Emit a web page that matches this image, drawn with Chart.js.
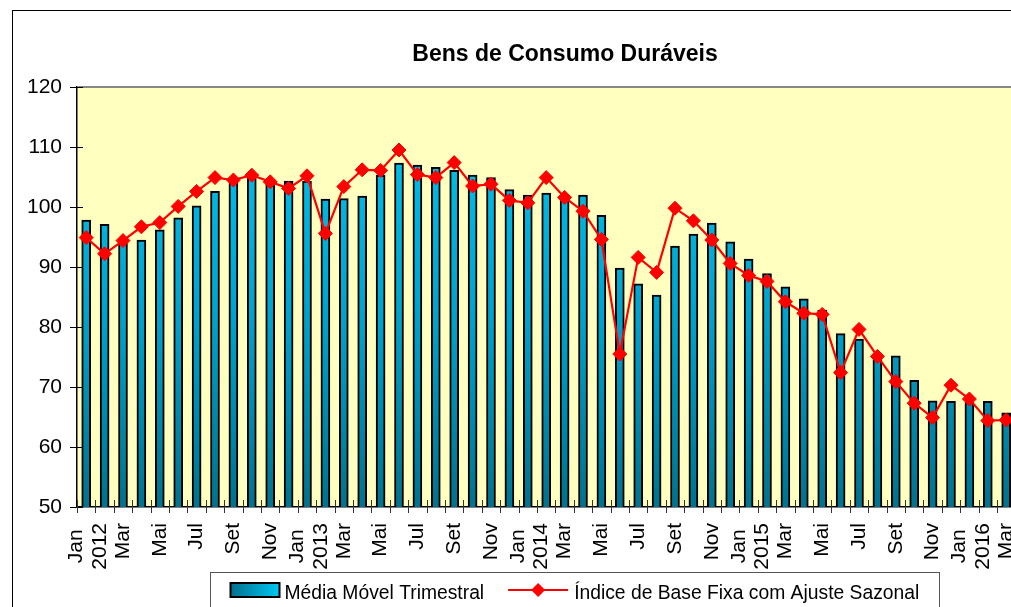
<!DOCTYPE html>
<html><head><meta charset="utf-8">
<script src="https://cdn.jsdelivr.net/npm/chart.js@4.4.1/dist/chart.umd.min.js"></script>
<style>
html,body{margin:0;padding:0;background:#fff;overflow:hidden;width:1011px;height:607px;}
#frame{position:absolute;left:12px;top:10px;width:1104px;height:640px;border:1px solid #000;}
canvas{display:block;}
</style></head><body>
<div id="frame"><canvas id="c" width="1104" height="640"></canvas></div>
<script>
const categories = [
 'Jan 2012','Fev 2012','Mar 2012','Abr 2012','Mai 2012','Jun 2012','Jul 2012','Ago 2012','Set 2012','Out 2012','Nov 2012','Dez 2012',
 'Jan 2013','Fev 2013','Mar 2013','Abr 2013','Mai 2013','Jun 2013','Jul 2013','Ago 2013','Set 2013','Out 2013','Nov 2013','Dez 2013',
 'Jan 2014','Fev 2014','Mar 2014','Abr 2014','Mai 2014','Jun 2014','Jul 2014','Ago 2014','Set 2014','Out 2014','Nov 2014','Dez 2014',
 'Jan 2015','Fev 2015','Mar 2015','Abr 2015','Mai 2015','Jun 2015','Jul 2015','Ago 2015','Set 2015','Out 2015','Nov 2015','Dez 2015',
 'Jan 2016','Fev 2016','Mar 2016'];
const tickLabels = [
 'Jan\n2012','','Mar','','Mai','','Jul','','Set','','Nov','',
 'Jan\n2013','','Mar','','Mai','','Jul','','Set','','Nov','',
 'Jan\n2014','','Mar','','Mai','','Jul','','Set','','Nov','',
 'Jan\n2015','','Mar','','Mai','','Jul','','Set','','Nov','',
 'Jan\n2016','','Mar'];
const mediaMovel = [
 97.8,97.1,94.0,94.5,96.2,98.2,100.2,102.6,104.4,105.1,104.2,104.3,
 104.3,101.3,101.4,101.8,105.3,107.3,107.0,106.6,106.1,105.3,104.9,102.9,
 102.0,102.3,102.0,102.0,98.6,89.8,87.2,85.3,93.5,95.5,97.3,94.2,
 91.3,88.9,86.7,84.7,82.8,78.9,78.0,75.5,75.2,71.1,67.7,67.6,
 67.5,67.6,65.7];
const indiceAjustado = [
 94.9,92.2,94.4,96.7,97.4,100.1,102.6,104.9,104.5,105.3,104.2,103.1,
 105.2,95.6,103.4,106.2,106.1,109.5,105.4,104.9,107.4,103.5,103.8,101.1,
 100.7,104.9,101.6,99.3,94.6,75.5,91.6,89.1,99.8,97.7,94.5,90.6,
 88.6,87.6,84.2,82.3,82.1,72.4,79.6,75.1,70.9,67.3,64.9,70.3,
 68.0,64.4,64.5];
const yMin = 50, yMax = 120, yStep = 10;
const seriesNames = ['Média Móvel Trimestral', 'Índice de Base Fixa com Ajuste Sazonal'];
const chartTitle = 'Bens de Consumo Duráveis';

const FONT = '"Liberation Sans", Arial, sans-serif';

function barGradient(context) {
  const chart = context.chart;
  const area = chart.chartArea;
  if (!area) return '#00a8d8';
  const g = chart.ctx.createLinearGradient(0, area.top, 0, area.bottom);
  g.addColorStop(0, '#00c8f4');
  g.addColorStop(0.55, '#00a2cc');
  g.addColorStop(1, '#00728f');
  return g;
}

const decorPlugin = {
  id: 'decor',
  beforeDraw(chart) {
    const {ctx, chartArea: a} = chart;
    ctx.save();
    ctx.fillStyle = '#ffffc0';
    ctx.fillRect(a.left, a.top, a.right - a.left, a.bottom - a.top);
    ctx.restore();
  },
  beforeDatasetsDraw(chart) {
    const {ctx, chartArea: a, scales: {x, y}} = chart;
    ctx.save();
    ctx.strokeStyle = '#888';
    ctx.lineWidth = 2;
    ctx.beginPath();
    ctx.moveTo(a.left, a.top); ctx.lineTo(a.right, a.top); ctx.lineTo(a.right, a.bottom);
    ctx.stroke();
    ctx.strokeStyle = '#000';
    ctx.lineWidth = 1;
    for (let v = yMin; v <= yMax; v += yStep) {
      const py = Math.round(y.getPixelForValue(v)) + 0.5;
      ctx.beginPath(); ctx.moveTo(a.left - 7, py); ctx.lineTo(a.left + 6, py); ctx.stroke();
    }
    ctx.strokeStyle = '#333';
    const n = categories.length;
    for (let i = 0; i <= n; i++) {
      let px;
      if (i === 0) px = a.left;
      else if (i === n) px = a.right;
      else px = (x.getPixelForValue(i - 1) + x.getPixelForValue(i)) / 2;
      px = Math.round(px) + 0.5;
      ctx.beginPath(); ctx.moveTo(px, a.bottom - 7); ctx.lineTo(px, a.bottom + 6); ctx.stroke();
    }
    ctx.restore();
  },
  afterDraw(chart) {
    const {ctx, chartArea: a, scales: {x}} = chart;
    ctx.save();
    ctx.font = '21px ' + FONT;
    ctx.fillStyle = '#000';
    ctx.textAlign = 'center';
    ctx.textBaseline = 'middle';
    const lh = 23.5;
    const top = a.bottom + 16;
    tickLabels.forEach((lab, i) => {
      if (!lab) return;
      const lines = lab.split('\n');
      const px = x.getPixelForValue(i);
      const maxW = Math.max(...lines.map(l => ctx.measureText(l).width));
      lines.forEach((l, j) => {
        const lx = px + (j - (lines.length - 1) / 2) * lh + (lines.length > 1 ? 2 : 0);
        ctx.save();
        ctx.translate(lx, top + maxW / 2);
        ctx.rotate(-Math.PI / 2);
        ctx.fillText(l, 0, 0);
        ctx.restore();
      });
    });

    // legend
    ctx.font = '19.3px ' + FONT;
    ctx.textAlign = 'left';
    ctx.textBaseline = 'alphabetic';
    const boxL = 197.5, boxT = 561.5;
    const midY = 579;
    const baseY = 588;
    let cx = boxL + 20;
    const sw = 49, sh = 14;
    const g = ctx.createLinearGradient(cx, 0, cx + sw, 0);
    g.addColorStop(0, '#006f8c');
    g.addColorStop(1, '#00c8f4');
    ctx.fillStyle = g;
    ctx.fillRect(cx, midY - sh / 2, sw, sh);
    ctx.strokeStyle = '#000';
    ctx.lineWidth = 2;
    ctx.strokeRect(cx, midY - sh / 2, sw, sh);
    cx += sw + 5;
    ctx.fillStyle = '#000';
    ctx.fillText(chart.data.datasets[1].label, cx, baseY);
    cx += ctx.measureText(chart.data.datasets[1].label).width + 24;
    ctx.strokeStyle = '#ff0000';
    ctx.lineWidth = 2;
    ctx.beginPath(); ctx.moveTo(cx, midY); ctx.lineTo(cx + 60, midY); ctx.stroke();
    ctx.fillStyle = '#ff0000';
    const dx = cx + 30, r = 7;
    ctx.beginPath(); ctx.moveTo(dx, midY - r); ctx.lineTo(dx + r, midY); ctx.lineTo(dx, midY + r); ctx.lineTo(dx - r, midY); ctx.closePath(); ctx.fill();
    cx += 66;
    ctx.fillStyle = '#000';
    ctx.fillText(chart.data.datasets[0].label, cx, baseY);
    cx += ctx.measureText(chart.data.datasets[0].label).width + 20;
    ctx.strokeStyle = '#555';
    ctx.lineWidth = 1;
    ctx.strokeRect(boxL, boxT, Math.round(cx - boxL), 80);
    ctx.restore();
  }
};

new Chart(document.getElementById('c'), {
  type: 'bar',
  data: {
    labels: categories,
    datasets: [
      {
        type: 'line', label: seriesNames[1], data: indiceAjustado,
        borderColor: '#ff0000', backgroundColor: '#ff0000', borderWidth: 2.2,
        pointStyle: 'rectRot', pointRadius: 7, pointBackgroundColor: '#ff0000',
        pointBorderColor: '#ff0000', pointBorderWidth: 1, tension: 0, fill: false, order: 0
      },
      {
        type: 'bar', label: seriesNames[0], data: mediaMovel,
        backgroundColor: barGradient, borderColor: '#000', borderWidth: 2,
        borderSkipped: false, barThickness: 9, order: 1
      }
    ]
  },
  options: {
    responsive: false, animation: false, devicePixelRatio: 1,
    layout: {padding: {left: 0, right: 0, top: 0, bottom: 74}},
    plugins: {
      legend: {display: false},
      tooltip: {enabled: false},
      title: {
        display: true, text: chartTitle, color: '#000',
        font: {family: FONT, size: 23, weight: 'bold'},
        padding: {top: 30, bottom: 18.4}
      }
    },
    scales: {
      x: {
        ticks: {display: false},
        grid: {display: true, drawOnChartArea: false, drawTicks: false},
        border: {display: true, color: '#000', width: 1.5},
        afterFit(s) { s.height = 70; }
      },
      y: {
        min: yMin, max: yMax,
        ticks: {stepSize: yStep, color: '#000', font: {family: FONT, size: 21}, padding: 15},
        grid: {display: true, drawOnChartArea: false, drawTicks: false},
        border: {display: true, color: '#000', width: 1.5},
        afterFit(s) { s.width = 64; }
      },
      yR: {
        position: 'right', display: true,
        ticks: {display: false},
        grid: {display: false},
        border: {display: false},
        afterFit(s) { s.width = 101.6; }
      }
    }
  },
  plugins: [decorPlugin]
});
</script>
</body></html>
